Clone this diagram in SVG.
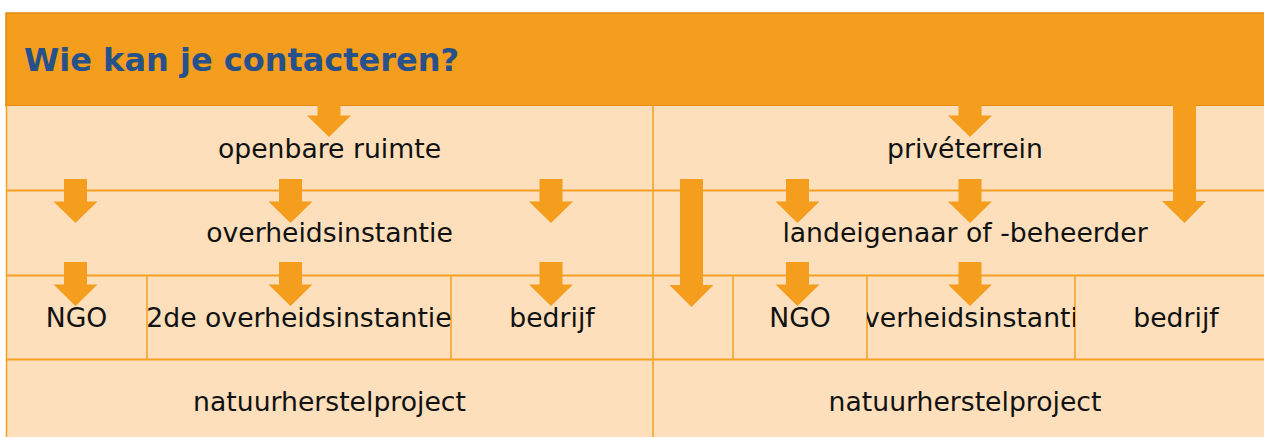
<svg xmlns="http://www.w3.org/2000/svg" width="1264" height="437" viewBox="0 0 1264 437">
<style>
.cell{fill:#fddfbc;stroke:none}
.hl{stroke:#f5a020;stroke-width:2;fill:none}
.vl{stroke:#f5a020;stroke-width:1.5;fill:none}
.t{font-family:"DejaVu Sans","Verdana",sans-serif;font-size:26.67px;fill:#111;text-anchor:middle}
.title{font-family:"DejaVu Sans","Verdana",sans-serif;font-size:32px;font-weight:bold;fill:#26518a}
.arr{fill:#f59d1d}
</style>
<defs>
<path id="a" d="M-11.5,0 H11.5 V22.5 H22 L0,44 L-22,22.5 H-11.5 Z"/>
<clipPath id="c1"><rect x="147" y="276" width="304" height="83"/></clipPath>
<clipPath id="c2"><rect x="867" y="276" width="208" height="83"/></clipPath>
</defs>
<rect x="0" y="0" width="1264" height="437" fill="#ffffff"/>
<g id="header">
<rect x="6" y="13" width="1271" height="93" fill="#f59d1d" stroke="#e08a0c" stroke-width="1.5"/>
<text class="title" x="24" y="71">Wie kan je contacteren?</text>
</g>
<rect class="cell" x="6" y="106" width="1271" height="340"/>
<g id="grid">
<line class="vl" x1="6.5" y1="106" x2="6.5" y2="437"/>
<line class="vl" x1="653" y1="106" x2="653" y2="437"/>
<line class="hl" x1="6" y1="190.5" x2="1277" y2="190.5"/>
<line class="hl" x1="6" y1="275.5" x2="1277" y2="275.5"/>
<line class="hl" x1="6" y1="359.5" x2="1277" y2="359.5"/>
<line class="vl" x1="147" y1="276" x2="147" y2="359"/>
<line class="vl" x1="451" y1="276" x2="451" y2="359"/>
<line class="vl" x1="733" y1="276" x2="733" y2="359"/>
<line class="vl" x1="867" y1="276" x2="867" y2="359"/>
<line class="vl" x1="1075" y1="276" x2="1075" y2="359"/>
</g>
<g id="openbare-ruimte"><text class="t" x="329.5" y="158">openbare ruimte</text></g>
<g id="priveterrein"><text class="t" x="965" y="158">privéterrein</text></g>
<g id="overheidsinstantie"><text class="t" x="329.5" y="242">overheidsinstantie</text></g>
<g id="landeigenaar"><text class="t" x="965" y="242">landeigenaar of -beheerder</text></g>
<g id="ngo-left"><text class="t" x="76.5" y="327">NGO</text></g>
<g id="overheid2-left"><text class="t" x="299" y="327" clip-path="url(#c1)">2de overheidsinstantie</text></g>
<g id="bedrijf-left"><text class="t" x="552" y="327">bedrijf</text></g>
<g id="ngo-right"><text class="t" x="800" y="327">NGO</text></g>
<g id="overheid-right"><text class="t" x="971" y="327" clip-path="url(#c2)">overheidsinstantie</text></g>
<g id="bedrijf-right"><text class="t" x="1176" y="327">bedrijf</text></g>
<g id="natuur-left"><text class="t" x="329.5" y="411">natuurherstelproject</text></g>
<g id="natuur-right"><text class="t" x="965" y="411">natuurherstelproject</text></g>
<g id="connectors" class="arr">
<use href="#a" x="329" y="93"/>
<use href="#a" x="970" y="93"/>
<path d="M1173,93 H1196 V201 H1206 L1184.5,223 L1162,201 H1173 Z"/>
<use href="#a" x="75.5" y="179"/>
<use href="#a" x="290.5" y="179"/>
<use href="#a" x="551" y="179"/>
<use href="#a" x="797.5" y="179"/>
<use href="#a" x="970" y="179"/>
<path d="M680,179 H703 V285 H713.5 L691.5,307 L669.5,285 H680 Z"/>
<use href="#a" x="75.5" y="262"/>
<use href="#a" x="290.5" y="262"/>
<use href="#a" x="551" y="262"/>
<use href="#a" x="797.5" y="262"/>
<use href="#a" x="970" y="262"/>
</g>
</svg>
